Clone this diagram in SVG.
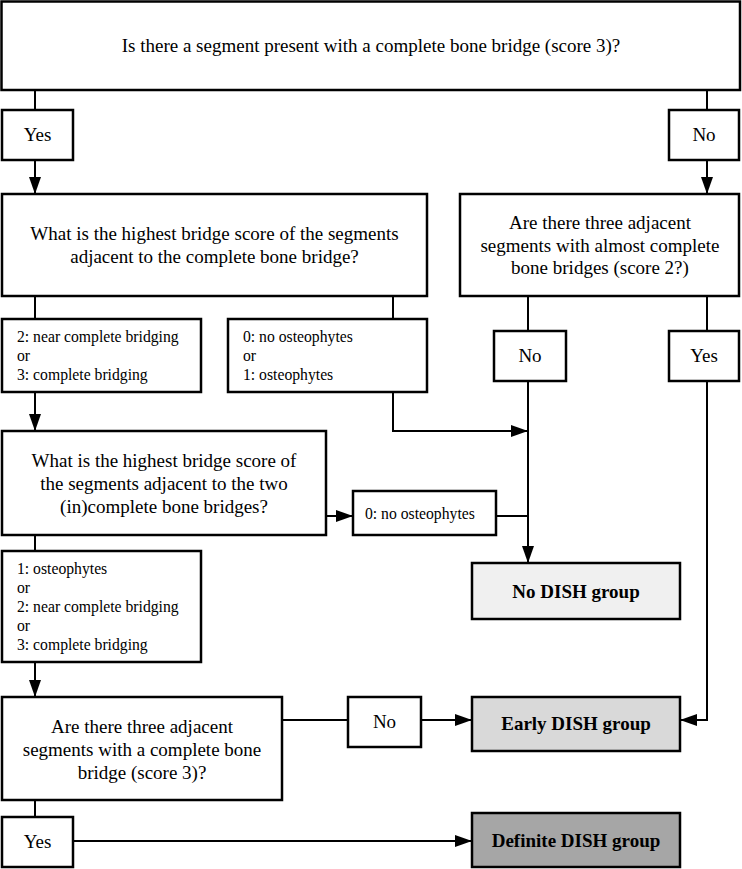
<svg xmlns="http://www.w3.org/2000/svg" width="742" height="869" viewBox="0 0 742 869">
<defs>
<style>
.box{fill:#fff;stroke:#000;stroke-width:2.5}
.g1{fill:#f0f0f0}
.g2{fill:#d9d9d9}
.g3{fill:#a6a6a6}
.q{font-family:"Liberation Serif","Times New Roman",serif;font-size:19px;text-anchor:middle;fill:#000}
.o{font-family:"Liberation Serif","Times New Roman",serif;font-size:15.7px;fill:#000}
.r{font-family:"Liberation Serif","Times New Roman",serif;font-size:19px;font-weight:bold;text-anchor:middle;fill:#000}
.c{fill:none;stroke:#000;stroke-width:2}
</style>
<marker id="ah" markerUnits="userSpaceOnUse" markerWidth="17" markerHeight="12" refX="17" refY="6" orient="auto">
<path d="M0,0 L17,6 L0,12 Z" fill="#000"/>
</marker>
</defs>
<rect width="742" height="869" fill="#fff"/>
<g id="connectors">
<path class="c" d="M35,90 V110"/>
<path class="c" d="M707,90 V110"/>
<path class="c" d="M35,160 V194" marker-end="url(#ah)"/>
<path class="c" d="M707,160 V194" marker-end="url(#ah)"/>
<path class="c" d="M35,296 V319"/>
<path class="c" d="M393,296 V319"/>
<path class="c" d="M528,296 V331"/>
<path class="c" d="M707,296 V331"/>
<path class="c" d="M35,392 V431" marker-end="url(#ah)"/>
<path class="c" d="M393,392 V431 H528" marker-end="url(#ah)"/>
<path class="c" d="M528,381 V563" marker-end="url(#ah)"/>
<path class="c" d="M707,381 V720 H680" marker-end="url(#ah)"/>
<path class="c" d="M326,516 H353" marker-end="url(#ah)"/>
<path class="c" d="M496,516 H528"/>
<path class="c" d="M35,535 V551"/>
<path class="c" d="M35,662 V697" marker-end="url(#ah)"/>
<path class="c" d="M282,720 H348"/>
<path class="c" d="M421,720 H472" marker-end="url(#ah)"/>
<path class="c" d="M35,800 V817"/>
<path class="c" d="M73,841 H472" marker-end="url(#ah)"/>
</g>
<g id="q1">
<rect class="box" x="1.5" y="1.5" width="738.5" height="88.5"/>
<text class="q" x="371" y="52">Is there a segment present with a complete bone bridge (score 3)?</text>
</g>
<g id="yes1">
<rect class="box" x="2" y="110" width="71" height="50"/>
<text class="q" x="37.5" y="141">Yes</text>
</g>
<g id="no1">
<rect class="box" x="669" y="110" width="70" height="50"/>
<text class="q" x="704" y="141">No</text>
</g>
<g id="q2">
<rect class="box" x="2" y="194" width="425" height="102"/>
<text class="q" x="214.5" y="240">What is the highest bridge score of the segments</text>
<text class="q" x="214.5" y="263">adjacent to the complete bone bridge?</text>
</g>
<g id="q3">
<rect class="box" x="460" y="194" width="279" height="102"/>
<text class="q" x="600" y="229">Are there three adjacent</text>
<text class="q" x="600" y="251.5">segments with almost complete</text>
<text class="q" x="600" y="274">bone bridges (score 2?)</text>
</g>
<g id="optA">
<rect class="box" x="2" y="319" width="199" height="73"/>
<text class="o" x="17" y="342">2: near complete bridging</text>
<text class="o" x="17" y="361">or</text>
<text class="o" x="17" y="380">3: complete bridging</text>
</g>
<g id="optB">
<rect class="box" x="228" y="319" width="199" height="73"/>
<text class="o" x="243" y="342">0: no osteophytes</text>
<text class="o" x="243" y="361">or</text>
<text class="o" x="243" y="380">1: osteophytes</text>
</g>
<g id="no2">
<rect class="box" x="494" y="331" width="72" height="50"/>
<text class="q" x="530" y="362">No</text>
</g>
<g id="yes2">
<rect class="box" x="669" y="331" width="70" height="50"/>
<text class="q" x="704" y="362">Yes</text>
</g>
<g id="q4">
<rect class="box" x="2" y="431" width="324" height="104"/>
<text class="q" x="164" y="467">What is the highest bridge score of</text>
<text class="q" x="164" y="490">the segments adjacent to the two</text>
<text class="q" x="164" y="513">(in)complete bone bridges?</text>
</g>
<g id="optC">
<rect class="box" x="353" y="491" width="143" height="44"/>
<text class="o" x="365" y="519">0: no osteophytes</text>
</g>
<g id="nodish">
<rect class="box g1" x="472" y="563" width="208" height="56"/>
<text class="r" x="576" y="598">No DISH group</text>
</g>
<g id="optD">
<rect class="box" x="2" y="551" width="199" height="111"/>
<text class="o" x="17" y="574">1: osteophytes</text>
<text class="o" x="17" y="593">or</text>
<text class="o" x="17" y="612">2: near complete bridging</text>
<text class="o" x="17" y="631">or</text>
<text class="o" x="17" y="650">3: complete bridging</text>
</g>
<g id="q5">
<rect class="box" x="2" y="697" width="280" height="103"/>
<text class="q" x="142" y="733">Are there three adjacent</text>
<text class="q" x="142" y="756">segments with a complete bone</text>
<text class="q" x="142" y="779">bridge (score 3)?</text>
</g>
<g id="no3">
<rect class="box" x="348" y="697" width="73" height="50"/>
<text class="q" x="384.5" y="728">No</text>
</g>
<g id="early">
<rect class="box g2" x="472" y="697" width="208" height="54"/>
<text class="r" x="576" y="730">Early DISH group</text>
</g>
<g id="yes3">
<rect class="box" x="2" y="817" width="71" height="50"/>
<text class="q" x="37.5" y="848">Yes</text>
</g>
<g id="definite">
<rect class="box g3" x="472" y="813" width="208" height="54"/>
<text class="r" x="576" y="847">Definite DISH group</text>
</g>
</svg>
